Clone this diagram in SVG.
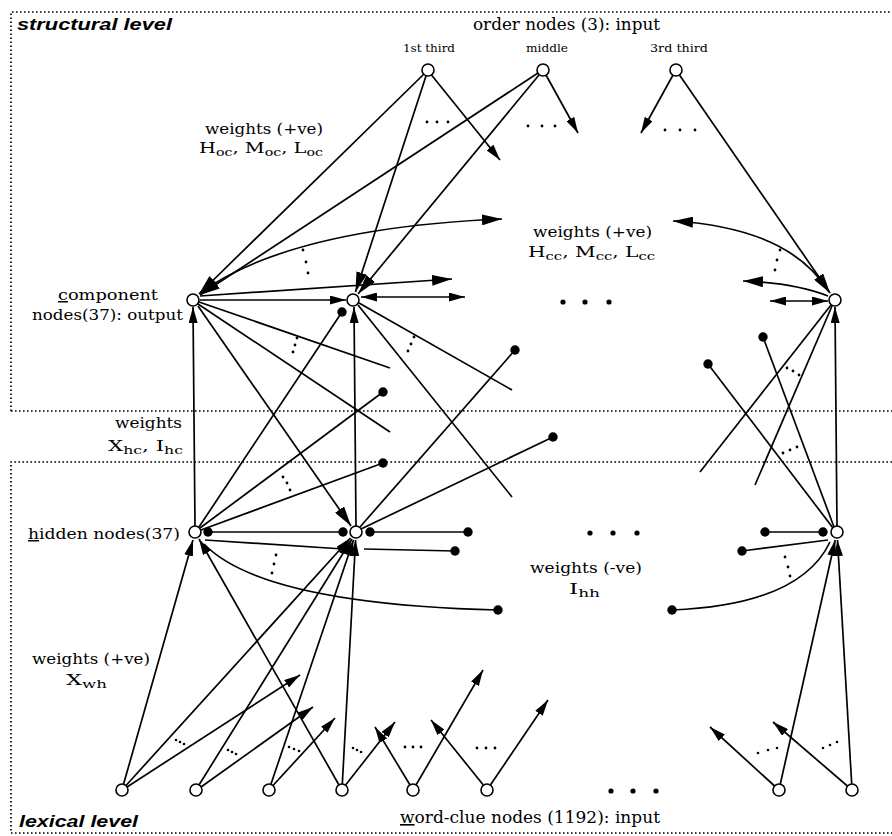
<svg xmlns="http://www.w3.org/2000/svg" width="892" height="836" viewBox="0 0 892 836">
<style>
.l{stroke:#000;stroke-width:1.7;fill:none}
.a{marker-end:url(#ah)}
.aL{marker-end:url(#ahL)}
.a2{marker-start:url(#ah);marker-end:url(#ah)}
.b{marker-end:url(#ball)}
.bb{marker-start:url(#ball);marker-end:url(#ball)}
.bs{marker-start:url(#ball)}
.n{fill:#fff;stroke:#000;stroke-width:1.6}
.t{font-family:"DejaVu Serif","Liberation Serif",serif;fill:#000;font-size:15px}
.s{font-size:11px}
.lv{font-family:"Liberation Sans",Arial,sans-serif;font-weight:bold;font-style:italic;font-size:16px;fill:#000}
.box{stroke:#000;stroke-width:1.7;stroke-dasharray:1.6 2.4;fill:none}
.d{fill:#000}
</style>
<defs>
<marker id="ah" viewBox="0 0 16 9" refX="16" refY="4.5" markerWidth="16" markerHeight="9" markerUnits="userSpaceOnUse" orient="auto-start-reverse"><path d="M0,0 L16,4.5 L0,9 z"/></marker>
<marker id="ahL" viewBox="0 0 20 11" refX="20" refY="5.5" markerWidth="20" markerHeight="11" markerUnits="userSpaceOnUse" orient="auto-start-reverse"><path d="M0,0 L20,5.5 L0,11 z"/></marker>
<marker id="ball" viewBox="0 0 10 10" refX="5" refY="5" markerWidth="10" markerHeight="10" markerUnits="userSpaceOnUse"><circle cx="5" cy="5" r="4.7"/></marker>
</defs>
<rect width="892" height="836" fill="#fff"/>

<g id="levels">
<path class="box" d="M11,411 L11,12 L892,12"/>
<path class="box" d="M11,411 L892,411"/>
<path class="box" d="M892,462 L11,462 L11,833 L892,833"/>
<text class="lv" x="17" y="30" textLength="155" lengthAdjust="spacingAndGlyphs">structural level</text>
<text class="lv" x="19" y="827" textLength="119" lengthAdjust="spacingAndGlyphs">lexical level</text>
</g>

<g id="connectors">
<path class="l aL" d="M424,74 L199,294"/>
<path class="l aL" d="M426,76 L355.5,292"/>
<path class="l a" d="M431.5,75 L500,160"/>
<path class="l aL" d="M538,73 L200,295"/>
<path class="l aL" d="M539,75 L358,294"/>
<path class="l a" d="M546,75 L578,133"/>
<path class="l a" d="M673,75 L641,133"/>
<path class="l aL" d="M679.5,75 L830,293"/>

<path class="l aL" d="M200,293 Q290,228 502,219"/>
<path class="l aL" d="M200,296 L452,279"/>
<path class="l a" d="M200,300 L346,300"/>
<path class="l a2" d="M361,297 L465,297"/>
<path class="l aL" d="M828,296 Q795,283 743,281"/>
<path class="l a2" d="M770,301 L828,301"/>
<path class="l aL" d="M829,292 Q790,228 673,221"/>

<path class="l a" d="M195,526 L193,307"/>
<path class="l a" d="M356,526 L354,307"/>
<path class="l a" d="M837,526 L835,307"/>

<path class="l b" d="M199,527 L342,312"/>
<path class="l aL" d="M198,306 L351,526"/>
<path class="l" d="M199,302 L390,368"/>
<path class="l" d="M198,304 L390,432"/>
<path class="l b" d="M200,528 L383,392"/>
<path class="l b" d="M201,530 L383,463"/>
<path class="l" d="M359,303 L512,390"/>
<path class="l" d="M358,305 L512,497"/>
<path class="l b" d="M360,527 L515,350"/>
<path class="l b" d="M361,529 L553,437"/>
<path class="l" d="M831,305 L700,472"/>
<path class="l" d="M832,306 L755,485"/>
<path class="l b" d="M834,527 L763,337"/>
<path class="l b" d="M833,528 L708,364"/>

<path class="l bb" d="M208,532 L343,532"/>
<path class="l b" d="M205,540 L343,549"/>
<path class="l bb" d="M370,532 L468,532"/>
<path class="l b" d="M364,549 L455,551"/>
<path class="l b" d="M204,544 Q262,604 498,610"/>
<path class="l bb" d="M765,532 L823,532"/>
<path class="l bs" d="M742,551 Q790,545 828,540"/>
<path class="l b" d="M830,542 Q800,605 672,610"/>

<path class="l a" d="M123.6,784 L193,540"/>
<path class="l a" d="M126,785.5 L350.5,538"/>
<path class="l a" d="M127,787 L300,675"/>
<path class="l a" d="M199,785 L352,539"/>
<path class="l a" d="M201,787 L313,707"/>
<path class="l a" d="M271,784 L353.5,540"/>
<path class="l a" d="M273,785.5 L335,718"/>
<path class="l a" d="M342.3,784 L355.6,540"/>
<path class="l a" d="M339,785 L199,539"/>
<path class="l a" d="M345.6,785 L395,722"/>
<path class="l a" d="M410,785 L375,727"/>
<path class="l a" d="M416,785 L483,670"/>
<path class="l a" d="M483.3,785 L431,720"/>
<path class="l a" d="M490.4,785 L548,700"/>
<path class="l a" d="M774.6,786 L710,727"/>
<path class="l a" d="M780.3,784 L835.2,540"/>
<path class="l a" d="M847.4,786 L773,722"/>
<path class="l a" d="M851.7,784 L837.5,540"/>
</g>

<g id="ellipses" class="d">
<circle cx="427" cy="122" r="1.4"/><circle cx="437" cy="122" r="1.4"/><circle cx="448" cy="122" r="1.4"/>
<circle cx="528" cy="126" r="1.4"/><circle cx="542" cy="126" r="1.4"/><circle cx="555" cy="126" r="1.4"/>
<circle cx="665" cy="130" r="1.4"/><circle cx="680" cy="130" r="1.4"/><circle cx="695" cy="130" r="1.4"/>
<circle cx="303" cy="250" r="1.4"/><circle cx="306" cy="262" r="1.4"/><circle cx="308" cy="273" r="1.4"/>
<circle cx="780" cy="250" r="1.4"/><circle cx="777" cy="260" r="1.4"/><circle cx="775" cy="270" r="1.4"/>
<circle cx="297" cy="338" r="1.4"/><circle cx="295" cy="345" r="1.4"/><circle cx="293" cy="352" r="1.4"/>
<circle cx="414" cy="337" r="1.4"/><circle cx="411" cy="344" r="1.4"/><circle cx="408" cy="351" r="1.4"/>
<circle cx="283" cy="477" r="1.4"/><circle cx="287" cy="483" r="1.4"/><circle cx="290" cy="490" r="1.4"/>
<circle cx="787" cy="368" r="1.4"/><circle cx="793" cy="371" r="1.4"/><circle cx="799" cy="375" r="1.4"/>
<circle cx="783" cy="453" r="1.4"/><circle cx="790" cy="450" r="1.4"/><circle cx="797" cy="447" r="1.4"/>
<circle cx="276" cy="555" r="1.4"/><circle cx="274" cy="564" r="1.4"/><circle cx="272" cy="573" r="1.4"/>
<circle cx="785" cy="557" r="1.4"/><circle cx="788" cy="567" r="1.4"/><circle cx="790" cy="576" r="1.4"/>
<circle cx="176" cy="740" r="1.3"/><circle cx="180" cy="742" r="1.3"/><circle cx="184" cy="744" r="1.3"/>
<circle cx="228" cy="750" r="1.3"/><circle cx="232" cy="752" r="1.3"/><circle cx="236" cy="754" r="1.3"/>
<circle cx="289" cy="747" r="1.3"/><circle cx="294" cy="749" r="1.3"/><circle cx="299" cy="751" r="1.3"/>
<circle cx="353" cy="748" r="1.3"/><circle cx="357" cy="750" r="1.3"/><circle cx="361" cy="752" r="1.3"/>
<circle cx="405" cy="747" r="1.4"/><circle cx="413" cy="747" r="1.4"/><circle cx="421" cy="747" r="1.4"/>
<circle cx="477" cy="748" r="1.4"/><circle cx="486" cy="748" r="1.4"/><circle cx="495" cy="748" r="1.4"/>
<circle cx="758" cy="753" r="1.3"/><circle cx="768" cy="750" r="1.3"/><circle cx="777" cy="748" r="1.3"/>
<circle cx="823" cy="748" r="1.3"/><circle cx="830" cy="745" r="1.3"/><circle cx="837" cy="742" r="1.3"/>
<circle cx="563" cy="302" r="2.6"/><circle cx="585" cy="302" r="2.6"/><circle cx="609" cy="302" r="2.6"/>
<circle cx="590" cy="533" r="2.6"/><circle cx="613" cy="533" r="2.6"/><circle cx="637" cy="533" r="2.6"/>
<circle cx="611" cy="791" r="2.6"/><circle cx="633" cy="791" r="2.6"/><circle cx="656" cy="791" r="2.6"/>
</g>

<g id="labels">
<text class="t" x="473" y="30" textLength="187" lengthAdjust="spacingAndGlyphs" style="font-size:16px">order nodes (3): input</text>
<text class="t" x="205" y="134" textLength="118" lengthAdjust="spacingAndGlyphs">weights (+ve)</text>
<text class="t" x="199" y="153" textLength="124" lengthAdjust="spacingAndGlyphs">H<tspan class="s" dy="3">oc</tspan><tspan dy="-3">, M</tspan><tspan class="s" dy="3">oc</tspan><tspan dy="-3">, L</tspan><tspan class="s" dy="3">oc</tspan></text>
<text class="t" x="533" y="237" textLength="119" lengthAdjust="spacingAndGlyphs">weights (+ve)</text>
<text class="t" x="528" y="257" textLength="127" lengthAdjust="spacingAndGlyphs">H<tspan class="s" dy="3">cc</tspan><tspan dy="-3">, M</tspan><tspan class="s" dy="3">cc</tspan><tspan dy="-3">, L</tspan><tspan class="s" dy="3">cc</tspan></text>
<text class="t" x="115" y="428" textLength="67" lengthAdjust="spacingAndGlyphs">weights</text>
<text class="t" x="108" y="451" textLength="75" lengthAdjust="spacingAndGlyphs">X<tspan class="s" dy="3">hc</tspan><tspan dy="-3">, I</tspan><tspan class="s" dy="3">hc</tspan></text>
<text class="t" x="32" y="664" textLength="118" lengthAdjust="spacingAndGlyphs">weights (+ve)</text>
<text class="t" x="66" y="685" textLength="41" lengthAdjust="spacingAndGlyphs">X<tspan class="s" dy="3">wh</tspan></text>
<text class="t" x="530" y="573" textLength="112" lengthAdjust="spacingAndGlyphs">weights (-ve)</text>
<text class="t" x="569" y="594" textLength="31" lengthAdjust="spacingAndGlyphs">I<tspan class="s" dy="3">hh</tspan></text>
</g>

<g id="order-1st"><circle class="n" cx="428" cy="70" r="6"/><text class="t s" x="403" y="52" textLength="52" lengthAdjust="spacingAndGlyphs">1st third</text></g>
<g id="order-middle"><circle class="n" cx="543" cy="70" r="6"/><text class="t s" x="526" y="52" textLength="42" lengthAdjust="spacingAndGlyphs">middle</text></g>
<g id="order-3rd"><circle class="n" cx="676" cy="70" r="6"/><text class="t s" x="650" y="52" textLength="58" lengthAdjust="spacingAndGlyphs">3rd third</text></g>

<g id="comp-1"><circle class="n" cx="193" cy="300" r="6"/>
<text class="t" x="58" y="300" textLength="100" lengthAdjust="spacingAndGlyphs"><tspan text-decoration="underline">c</tspan>omponent</text>
<text class="t" x="32" y="320" textLength="151" lengthAdjust="spacingAndGlyphs">nodes(37): output</text></g>
<g id="comp-2"><circle class="n" cx="353" cy="300" r="6"/></g>
<g id="comp-37"><circle class="n" cx="835" cy="300" r="6"/></g>

<g id="hidden-1"><circle class="n" cx="195" cy="532" r="6"/>
<text class="t" x="28" y="539" textLength="152" lengthAdjust="spacingAndGlyphs"><tspan text-decoration="underline">h</tspan>idden nodes(37)</text></g>
<g id="hidden-2"><circle class="n" cx="356" cy="532" r="6"/></g>
<g id="hidden-37"><circle class="n" cx="837" cy="532" r="6"/></g>

<g id="word-1"><circle class="n" cx="122" cy="790" r="6"/></g>
<g id="word-2"><circle class="n" cx="196" cy="790" r="6"/></g>
<g id="word-3"><circle class="n" cx="269" cy="790" r="6"/></g>
<g id="word-4"><circle class="n" cx="342" cy="790" r="6"/></g>
<g id="word-5"><circle class="n" cx="413" cy="790" r="6"/></g>
<g id="word-6"><circle class="n" cx="487" cy="790" r="6"/></g>
<g id="word-1191"><circle class="n" cx="779" cy="790" r="6"/></g>
<g id="word-1192"><circle class="n" cx="852" cy="790" r="6"/></g>
<text class="t" x="400" y="823" textLength="260" lengthAdjust="spacingAndGlyphs" style="font-size:16px"><tspan text-decoration="underline">w</tspan>ord-clue nodes (1192): input</text>
</svg>
